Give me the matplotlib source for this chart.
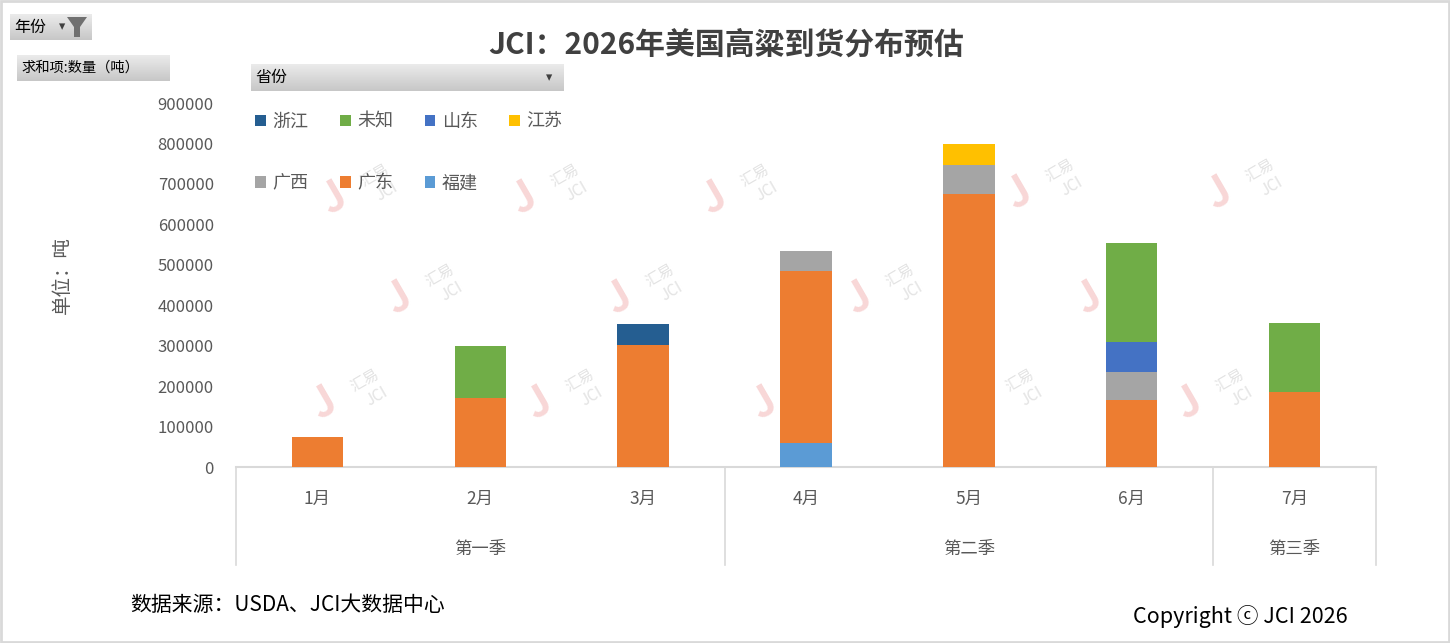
import numpy as np
import matplotlib
matplotlib.use("Agg")
import matplotlib.pyplot as plt
from matplotlib.patches import Patch, Rectangle, Polygon

plt.rcParams['font.family'] = ['Noto Sans CJK SC', 'DejaVu Sans']

# data (tonnes)
months = ['1月', '2月', '3月', '4月', '5月', '6月', '7月']
quarters = ['第一季', '第二季', '第三季']
quarter_sizes = [3, 3, 1]
fujian = [0, 0, 0, 60000, 0, 0, 0]
guangdong = [75000, 171000, 301000, 424000, 675000, 166000, 186000]
guangxi = [0, 0, 0, 49000, 71000, 69000, 0]
jiangsu = [0, 0, 0, 0, 52000, 0, 0]
shandong = [0, 0, 0, 0, 0, 74000, 0]
weizhi = [0, 128000, 0, 0, 0, 244000, 170000]
zhejiang = [0, 0, 52000, 0, 0, 0, 0]

series = [
    ('福建', fujian, '#5b9bd5'),
    ('广东', guangdong, '#ed7d31'),
    ('广西', guangxi, '#a5a5a5'),
    ('江苏', jiangsu, '#ffc000'),
    ('山东', shandong, '#4472c4'),
    ('未知', weizhi, '#70ad47'),
    ('浙江', zhejiang, '#255e91'),
]

W, H = 1450, 643
fig = plt.figure(figsize=(14.5, 6.43), dpi=100)
fig.patch.set_facecolor('white')


def fx(px):
    return px / W


def fy(py):
    return 1 - py / H


# outer frame
fig.add_artist(Rectangle((0.001, 0.002), 0.998, 0.996, transform=fig.transFigure,
                         fill=False, edgecolor='#d9d9d9', linewidth=2))

ax = fig.add_axes([fx(236), fy(467), fx(1376) - fx(236), fy(103) - fy(467)])
ax.set_facecolor('none')
ax.set_zorder(2)

# watermarks (behind the bars)
wm_pos = [(355, 190), (545, 190), (735, 190), (1040, 185), (1240, 185),
          (420, 290), (640, 290), (880, 290), (1110, 290),
          (345, 395), (560, 395), (785, 395), (1000, 395), (1210, 395)]
for px, py in wm_pos:
    fig.text(fx(px - 22), fy(py + 8), 'J', color='#f8d7d7', fontsize=30,
             fontweight='bold', rotation=30, ha='center', va='center', zorder=1)
    fig.text(fx(px + 20), fy(py - 14), '汇易', color='#e3e3e3', fontsize=11,
             rotation=30, ha='center', va='center', zorder=1)
    fig.text(fx(px + 32), fy(py + 2), 'JCI', color='#e3e3e3', fontsize=11,
             rotation=30, ha='center', va='center', zorder=1)

x = np.arange(len(months))
bottom = np.zeros(len(months))
for name, vals, col in series:
    ax.bar(x, vals, width=0.315, bottom=bottom, color=col, zorder=3)
    bottom += np.array(vals)

ax.set_xlim(-0.5, len(months) - 0.5)
ax.set_ylim(0, 900000)
ax.set_yticks(np.arange(0, 900001, 100000))
ax.set_yticklabels([str(v) for v in range(0, 900001, 100000)])
ax.tick_params(axis='y', length=0, pad=16, labelsize=12, labelcolor='#595959')
ax.set_xticks([])
for s in ['top', 'right', 'left']:
    ax.spines[s].set_visible(False)
ax.spines['bottom'].set_color('#d9d9d9')
ax.spines['bottom'].set_linewidth(1.5)

# multi-level category axis
edges = np.concatenate([[0], np.cumsum(quarter_sizes)])
for e in edges:
    ax.plot([e - 0.5, e - 0.5], [0, -0.27], transform=ax.get_xaxis_transform(),
            color='#d9d9d9', linewidth=1.2, clip_on=False)
for i, m in enumerate(months):
    ax.text(i, -0.088, m, transform=ax.get_xaxis_transform(), ha='center',
            va='center', fontsize=12.5, color='#595959')
for q, a, b in zip(quarters, edges[:-1], edges[1:]):
    ax.text((a + b - 1) / 2, -0.225, q, transform=ax.get_xaxis_transform(),
            ha='center', va='center', fontsize=12.5, color='#595959')

# y axis title
fig.text(fx(62), fy(275), '单位：吨', rotation=90, ha='center', va='center',
         fontsize=14, color='#595959')

# title
fig.text(fx(726), fy(45), 'JCI：2026年美国高粱到货分布预估', ha='center', va='center',
         fontsize=21.5, fontweight='bold', color='#404040')

# legend (row-major order as in the chart)
order = ['浙江', '广西', '未知', '广东', '山东', '福建', '江苏']
lookup = {nm: c for nm, _, c in series}
handles = [Patch(facecolor=lookup[nm], edgecolor='none', label=nm) for nm in order]
fig.legend(handles=handles, loc='upper left', bbox_to_anchor=(fx(255), fy(113)),
           ncol=4, frameon=False, fontsize=13, handlelength=0.6,
           handleheight=0.6, handletextpad=0.35, columnspacing=1.75,
           labelspacing=2.4, borderpad=0, borderaxespad=0,
           labelcolor='#595959')


# pivot-field buttons
def button(x0, y0, x1, y1, label, arrow_x=None, size=11):
    bax = fig.add_axes([fx(x0), fy(y1), fx(x1) - fx(x0), fy(y0) - fy(y1)])
    grad = np.linspace(0.92, 0.78, 50).reshape(-1, 1)
    bax.imshow(grad, aspect='auto', cmap='gray', vmin=0, vmax=1,
               extent=[0, 1, 0, 1])
    bax.set_xlim(0, 1)
    bax.set_ylim(0, 1)
    bax.axis('off')
    fig.text(fx(x0 + 4), fy((y0 + y1) / 2), label, ha='left', va='center',
             fontsize=size, color='black')
    if arrow_x is not None:
        fig.text(fx(arrow_x), fy((y0 + y1) / 2), '▾', ha='center', va='center',
                 fontsize=9, color='#404040', family=['DejaVu Sans'])
    return bax


button(10, 14, 92, 40, '年份', arrow_x=62, size=11.5)
funnel = Polygon([[fx(67), fy(17)], [fx(87), fy(17)], [fx(80), fy(27)],
                  [fx(80), fy(37)], [fx(74), fy(37)], [fx(74), fy(27)]],
                 closed=True, transform=fig.transFigure, facecolor='#707070',
                 edgecolor='none')
fig.add_artist(funnel)
button(17, 55, 170, 81, '求和项:数量（吨）', size=10.3)
button(251, 64, 564, 91, '省份', arrow_x=549, size=11.5)

# footer
fig.text(fx(130), fy(605), '数据来源：USDA、JCI大数据中心', ha='left', va='center',
         fontsize=15, color='black')
fig.text(fx(1348), fy(617), 'Copyright ⓒ JCI 2026', ha='right', va='center',
         fontsize=15.5, color='black')

fig.savefig('out.png', dpi=100, facecolor='white')
